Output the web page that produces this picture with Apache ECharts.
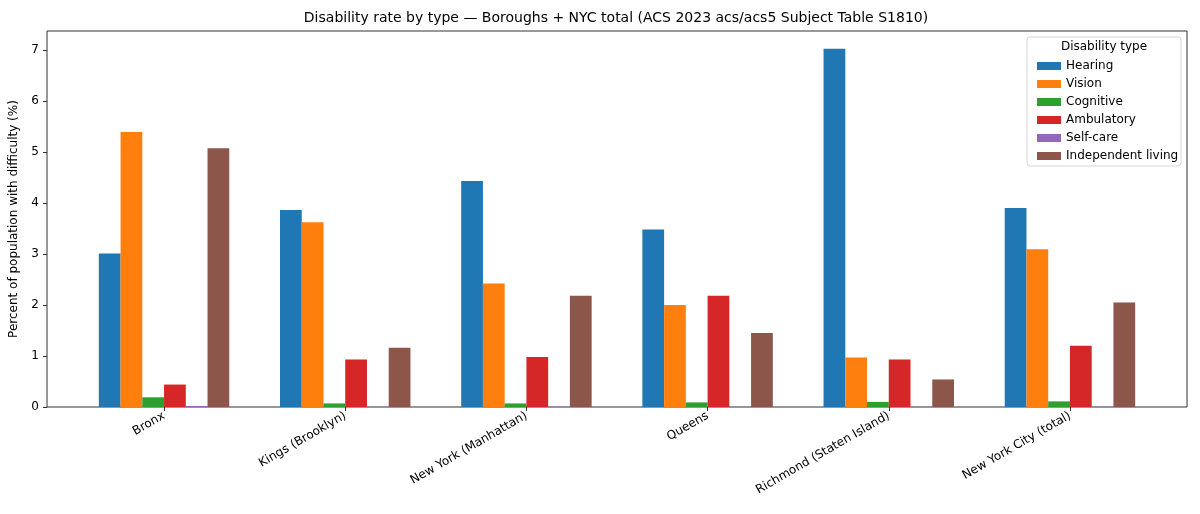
<!DOCTYPE html>
<html>
<head>
<meta charset="utf-8">
<script src="https://cdn.jsdelivr.net/npm/echarts@6/dist/echarts.min.js"></script>
<style>
  html, body { margin: 0; padding: 0; background: #fff; }
  #chart { width: 1200px; height: 514px; }
</style>
</head>
<body>
<div id="chart"></div>
<script>
// ACS 2023 5-year, S1810 - percent with each difficulty
var boroughs = ['Bronx', 'Kings (Brooklyn)', 'New York (Manhattan)', 'Queens', 'Richmond (Staten Island)', 'New York City (total)'];
var types = ['Hearing', 'Vision', 'Cognitive', 'Ambulatory', 'Self-care', 'Independent living'];
var hearing = [3.01, 3.86, 4.43, 3.48, 7.02, 3.90];
var vision = [5.39, 3.62, 2.42, 2.00, 0.97, 3.09];
var cognitive = [0.19, 0.07, 0.07, 0.09, 0.10, 0.11];
var ambulatory = [0.44, 0.93, 0.98, 2.18, 0.93, 1.20];
var selfCare = [0.02, 0.005, 0.005, 0.005, 0.005, 0.005];
var independent = [5.07, 1.16, 2.18, 1.45, 0.54, 2.05];
var yTicks = [0, 1, 2, 3, 4, 5, 6, 7];

var colors = ['#1f77b4', '#ff7f0e', '#2ca02c', '#d62728', '#9467bd', '#8c564b'];
var font = 'DejaVu Sans';
var allValues = [hearing, vision, cognitive, ambulatory, selfCare, independent];
var xPositions = boroughs.map(function (b, i) { return i; });

var series = types.map(function (name, k) {
    return {
        name: name,
        type: 'bar',
        barWidth: '12%',
        barGap: '0%',
        itemStyle: { color: colors[k] },
        data: allValues[k].map(function (v, i) { return [i, v]; })
    };
});

var chart = echarts.init(document.getElementById('chart'));
chart.setOption({
    animation: false,
    textStyle: { fontFamily: font },
    title: {
        text: 'Disability rate by type \u2014 Boroughs + NYC total (ACS 2023 acs/acs5 Subject Table S1810)',
        left: 616,
        textAlign: 'center',
        top: 11,
        padding: 0,
        textStyle: { fontFamily: font, fontSize: 14, fontWeight: 'normal', color: '#000' }
    },
    grid: {
        left: 45, right: 13, top: 31, bottom: 107,
        show: true, borderColor: '#333', borderWidth: 1,
        containLabel: false
    },
    legend: {
        orient: 'vertical',
        left: 1032,
        top: 54,
        itemWidth: 24,
        itemHeight: 8,
        itemGap: 4,
        icon: 'rect',
        data: types,
        textStyle: { fontFamily: font, fontSize: 12, color: '#000', lineHeight: 14 }
    },
    graphic: [
        {
            type: 'rect', z: 3,
            shape: { x: 1027, y: 37, width: 154, height: 129, r: 3 },
            style: { fill: 'rgba(255,255,255,0.85)', stroke: '#d6d6d6', lineWidth: 1 }
        },
        {
            type: 'text', z: 5,
            x: 1104, y: 47,
            style: { text: 'Disability type', fontFamily: font, fontSize: 12, fill: '#000', align: 'center', verticalAlign: 'middle' }
        }
    ],
    xAxis: {
        type: 'value',
        min: -0.646,
        max: 5.646,
        splitLine: { show: false },
        axisLine: { show: false, onZero: false },
        axisTick: { show: true, customValues: xPositions, length: 4, lineStyle: { color: '#333' } },
        axisLabel: {
            customValues: xPositions,
            rotate: 30,
            margin: 8,
            fontFamily: font, fontSize: 12, color: '#000',
            formatter: function (v) { return boroughs[Math.round(v)]; }
        }
    },
    yAxis: {
        type: 'value',
        min: 0,
        max: 7.37,
        name: 'Percent of population with difficulty (%)',
        nameLocation: 'middle',
        nameGap: 27,
        nameTextStyle: { fontFamily: font, fontSize: 12, color: '#000' },
        splitLine: { show: false },
        axisLine: { show: false, onZero: false },
        axisTick: { show: true, customValues: yTicks, length: 4, lineStyle: { color: '#333' } },
        axisLabel: { customValues: yTicks, margin: 8, fontFamily: font, fontSize: 12, color: '#000' }
    },
    series: series
});
</script>
</body>
</html>
